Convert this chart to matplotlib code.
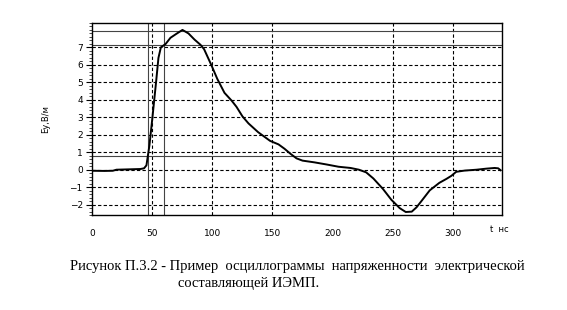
import matplotlib
matplotlib.use("Agg")
from matplotlib import pyplot as plt
from matplotlib.ticker import MultipleLocator

# oscillogram (t in ns, E in V/m)
t_ns = [0, 10, 17, 20, 30, 40, 43, 45, 47.5, 50, 53, 55, 57, 61, 65, 70, 75,
        80, 85, 90, 93, 99, 104, 110, 116, 120, 125, 130, 138, 145, 148, 155,
        160, 165, 170, 175, 185, 195, 205, 215, 222, 228, 234, 242, 249, 256,
        261, 266, 270, 274, 281, 289, 295, 299, 303, 310, 320, 328, 335, 338, 340]
e_vm = [-0.06, -0.07, -0.06, 0.0, 0.02, 0.04, 0.08, 0.25, 1.4, 3.0, 5.0, 6.4,
        7.0, 7.2, 7.55, 7.78, 8.0, 7.8, 7.45, 7.15, 6.9, 6.0, 5.2, 4.4, 3.95,
        3.6, 3.05, 2.65, 2.15, 1.8, 1.65, 1.45, 1.2, 0.91, 0.65, 0.52, 0.42,
        0.3, 0.17, 0.1, 0.0, -0.15, -0.5, -1.1, -1.72, -2.2, -2.42, -2.4, -2.15,
        -1.8, -1.18, -0.75, -0.52, -0.35, -0.12, -0.05, 0.0, 0.06, 0.1, 0.08, -0.03]

# cursors of the scope
cursor_t = [46.7, 60]
cursor_e = [7.92, 7.14, 0.78]

grid_t = [50, 100, 150, 250, 300]
grid_e = [-2, -1, 0, 1, 2, 3, 4, 5, 6, 7]

caption_1 = "Рисунок П.3.2 - Пример  осциллограммы  напряженности  электрической"
caption_2 = "составляющей ИЭМП."

fig = plt.figure(figsize=(5.67, 3.10), dpi=100)
ax = fig.add_axes([0.163, 0.306, 0.722, 0.620])

for g in grid_e:
    ax.axhline(g, color="black", lw=0.8, ls=(0, (3, 2)), zorder=1)
for g in grid_t:
    ax.axvline(g, color="black", lw=0.8, ls=(0, (3, 2)), zorder=1)
for c in cursor_t:
    ax.axvline(c, color="#444444", lw=0.8, zorder=2)
for c in cursor_e:
    ax.axhline(c, color="#444444", lw=0.8, zorder=2)

ax.plot(t_ns, e_vm, color="black", lw=1.4, zorder=3)

ax.set_xlim(0, 341)
ax.set_ylim(-2.6, 8.4)
ax.set_xticks([0, 50, 100, 150, 200, 250, 300])
ax.set_yticks(grid_e)
ax.yaxis.set_minor_locator(MultipleLocator(0.2))
ax.tick_params(axis="x", length=0, pad=10, labelsize=6.5)
ax.tick_params(axis="y", which="major", length=4, width=0.8, labelsize=6.5, pad=3)
ax.tick_params(axis="y", which="minor", length=2, width=0.5)
for s in ax.spines.values():
    s.set_linewidth(1.0)

ax.set_ylabel("Еу,В/м", fontsize=6, labelpad=14)
fig.text(0.865, 0.252, "t  нс", fontsize=6)

fig.text(0.1235, 0.140, caption_1, ha="left", va="center", fontsize=10.5,
         family="Liberation Serif")
fig.text(0.314, 0.087, caption_2, ha="left", va="center", fontsize=10.5,
         family="Liberation Serif")

plt.savefig("out.png", dpi=100)
